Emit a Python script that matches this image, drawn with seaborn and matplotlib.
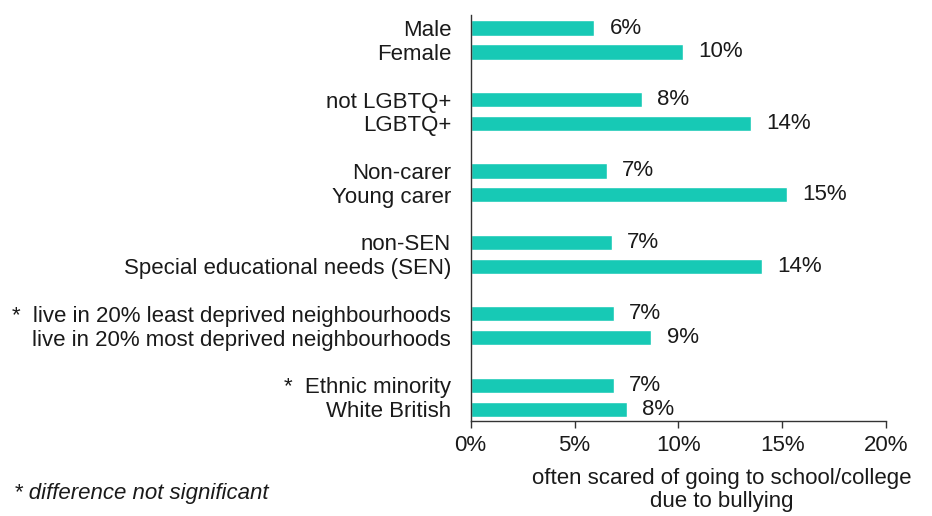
import matplotlib
matplotlib.use("Agg")
import matplotlib.pyplot as plt
import seaborn as sns
import pandas as pd

groups = [
    "Male", "Female",
    "not LGBTQ+", "LGBTQ+",
    "Non-carer", "Young carer",
    "non-SEN", "Special educational needs (SEN)",
    "*  live in 20% least deprived neighbourhoods", "live in 20% most deprived neighbourhoods",
    "*  Ethnic minority", "White British",
]
values = [5.95, 10.2, 8.25, 13.5, 6.55, 15.2, 6.8, 14.0, 6.9, 8.7, 6.9, 7.5]
x_ticks = [0, 5, 10, 15, 20]

sns.set_theme(style="white")
plt.rcParams["font.family"] = ["Liberation Sans", "DejaVu Sans"]
text_color = "#1a1a1a"
fs = 16

df = pd.DataFrame({"group": groups, "pct": values})

# blank slots between the pairs of categories
order = []
for i in range(0, len(groups), 2):
    if i:
        order.append(" " * i)
    order += groups[i:i + 2]

fig = plt.figure(figsize=(9.32, 5.16), dpi=100)
ax = fig.add_axes([0.505, 0.184, 0.446, 0.787])

sns.barplot(data=df, y="group", x="pct", order=order, orient="h",
            color="#17C9B5", saturation=1, width=0.64, ax=ax)

ax.bar_label(ax.containers[0], labels=[f"{v:.0f}%" for v in values],
             padding=11, fontsize=fs, color=text_color)

ax.set_xlim(0, 20)
ax.set_ylim(16.5, -0.55)
ax.set_xticks(x_ticks)
ax.set_xticklabels([f"{t}%" for t in x_ticks], fontsize=fs, color=text_color)
ax.set_ylabel("")
ax.tick_params(axis="y", length=0, pad=14, labelsize=fs, labelcolor=text_color)
ax.tick_params(axis="x", length=5, width=1, direction="out", bottom=True,
               color="#333333", pad=5)
for side in ("top", "right"):
    ax.spines[side].set_visible(False)
for side in ("left", "bottom"):
    ax.spines[side].set_color("#333333")
    ax.spines[side].set_linewidth(1)

ax.set_xlabel("often scared of going to school/college\ndue to bullying",
              fontsize=fs, color=text_color, linespacing=1.12)
ax.xaxis.set_label_coords(0.605, -0.115, transform=ax.transAxes)
ax.xaxis.label.set_va("top")

fig.text(0.015, 0.043, "* difference not significant", fontsize=fs,
         style="italic", color=text_color, ha="left", va="center")

fig.savefig("out.png", dpi=100)
